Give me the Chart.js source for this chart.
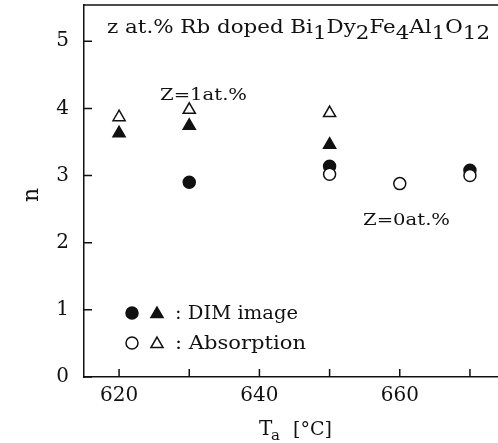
<!DOCTYPE html>
<html>
<head>
<meta charset="utf-8">
<script src="https://cdn.jsdelivr.net/npm/chart.js@4.4.1/dist/chart.umd.min.js"></script>
<style>
  html, body { margin: 0; padding: 0; background: #fff; }
  #wrap { width: 498px; height: 443px; }
</style>
</head>
<body>
<div id="wrap"><canvas id="c" width="498" height="443"></canvas></div>
<script>
// annealing temperature (degC) and n
const dimCircleT = [630, 650, 670];
const dimCircleN = [2.90, 3.14, 3.08];
const absCircleT = [650, 660, 670];
const absCircleN = [3.02, 2.88, 3.00];
const dimTriT = [620, 630, 650];
const dimTriN = [3.63, 3.74, 3.46];
const absTriT = [620, 630, 650];
const absTriN = [3.87, 3.98, 3.93];

const xTicks = [620, 630, 640, 650, 660, 670];
const xLabelled = [620, 640, 660];
const yTicks = [0, 1, 2, 3, 4, 5];

const INK = '#111';
const SERIF = '"DejaVu Serif", serif';

const pts = (xs, ys) => xs.map((x, i) => ({ x, y: ys[i] }));

// draw text squeezed/stretched so it spans a given width
function fitText(ctx, text, x, y, width, font) {
  ctx.save();
  ctx.font = font;
  const w = ctx.measureText(text).width;
  ctx.translate(x, y);
  ctx.scale(width / w, 1);
  ctx.fillText(text, 0, 0);
  ctx.restore();
}

// runs of [text, isSubscript]
function drawRuns(ctx, runs, x, y, width, font, subFont, drop) {
  ctx.save();
  let total = 0;
  runs.forEach(([t, sub]) => { ctx.font = sub ? subFont : font; total += ctx.measureText(t).width; });
  const k = width / total;
  ctx.translate(x, y);
  ctx.scale(k, 1);
  let cx = 0;
  runs.forEach(([t, sub]) => {
    ctx.font = sub ? subFont : font;
    ctx.fillText(t, cx, sub ? drop : 0);
    cx += ctx.measureText(t).width;
  });
  ctx.restore();
}

function marker(ctx, style, filled, x, y) {
  ctx.save();
  ctx.lineWidth = 1.5;
  ctx.strokeStyle = INK;
  ctx.fillStyle = filled ? INK : '#fff';
  ctx.beginPath();
  if (style === 'circle') {
    ctx.arc(x, y, 6, 0, Math.PI * 2);
  } else {
    const r = 7;
    ctx.moveTo(x, y - r);
    ctx.lineTo(x + r * Math.sin(2 * Math.PI / 3), y + r / 2);
    ctx.lineTo(x - r * Math.sin(2 * Math.PI / 3), y + r / 2);
    ctx.closePath();
  }
  ctx.fill();
  ctx.stroke();
  ctx.restore();
}

const decor = {
  id: 'decor',
  afterDraw(chart) {
    const { ctx, chartArea: a, scales: { x, y } } = chart;
    ctx.save();
    ctx.strokeStyle = INK;
    ctx.fillStyle = INK;
    ctx.lineWidth = 1.5;

    // top frame line
    ctx.beginPath();
    ctx.moveTo(a.left, a.top);
    ctx.lineTo(a.right, a.top);
    ctx.stroke();

    // inward tick marks
    ctx.beginPath();
    xTicks.forEach(v => {
      const px = x.getPixelForValue(v);
      ctx.moveTo(px, a.bottom);
      ctx.lineTo(px, a.bottom - 8);
    });
    yTicks.forEach(v => {
      const py = y.getPixelForValue(v);
      ctx.moveTo(a.left, py);
      ctx.lineTo(a.left + 8, py);
    });
    ctx.stroke();

    ctx.textBaseline = 'alphabetic';
    ctx.textAlign = 'left';

    // heading inside the frame
    drawRuns(ctx, [
      ['z at.% Rb doped Bi', false], ['1', true], ['Dy', false], ['2', true],
      ['Fe', false], ['4', true], ['Al', false], ['1', true], ['O', false], ['12', true]
    ], 107, 33, 383, '18px ' + SERIF, '18px ' + SERIF, 6);

    // series labels
    fitText(ctx, 'Z=1at.%', 160, 100, 87, '17px ' + SERIF);
    fitText(ctx, 'Z=0at.%', 363, 225, 87, '17px ' + SERIF);

    // legend
    marker(ctx, 'circle', true, 132, 313);
    marker(ctx, 'triangle', true, 157, 314);
    marker(ctx, 'circle', false, 132, 343);
    marker(ctx, 'triangle', false, 157, 344);
    ctx.fillStyle = INK;
    fitText(ctx, ': DIM image', 175, 319, 123, '19px ' + SERIF);
    fitText(ctx, ': Absorption', 175, 349, 131, '19px ' + SERIF);

    // axis titles
    ctx.font = '20px ' + SERIF;
    ctx.fillText('T', 259, 435);
    ctx.font = '15px ' + SERIF;
    ctx.fillText('a', 271, 440);
    ctx.font = '19px ' + SERIF;
    ctx.fillText('[°C]', 293, 435);

    ctx.translate(38, 195);
    ctx.rotate(-Math.PI / 2);
    ctx.textAlign = 'center';
    ctx.font = '22px ' + SERIF;
    ctx.fillText('n', 0, 0);
    ctx.restore();
  }
};

new Chart(document.getElementById('c'), {
  type: 'scatter',
  data: {
    datasets: [
      { label: 'Absorption circle', data: pts(absCircleT, absCircleN), pointStyle: 'circle',
        pointRadius: 6, backgroundColor: '#fff', borderColor: INK, borderWidth: 1.5, order: 0 },
      { label: 'DIM circle', data: pts(dimCircleT, dimCircleN), pointStyle: 'circle',
        pointRadius: 6, backgroundColor: INK, borderColor: INK, borderWidth: 1.5, order: 1 },
      { label: 'DIM triangle', data: pts(dimTriT, dimTriN), pointStyle: 'triangle',
        pointRadius: 7, backgroundColor: INK, borderColor: INK, borderWidth: 1.5, order: 2 },
      { label: 'Absorption triangle', data: pts(absTriT, absTriN), pointStyle: 'triangle',
        pointRadius: 7, backgroundColor: '#fff', borderColor: INK, borderWidth: 1.5, order: 3 }
    ]
  },
  options: {
    responsive: false,
    animation: false,
    layout: { autoPadding: false, padding: { top: 5, right: 0, left: 0, bottom: 0 } },
    plugins: { legend: { display: false }, tooltip: { enabled: false } },
    scales: {
      x: {
        type: 'linear', min: 615, max: 674,
        afterBuildTicks: s => { s.ticks = xTicks.map(value => ({ value })); },
        afterFit: s => { s.height = 66; s.paddingLeft = 0; s.paddingRight = 0; },
        grid: { display: false, drawTicks: false },
        border: { display: true, color: INK, width: 1.5 },
        ticks: {
          padding: 7, color: INK, font: { family: SERIF, size: 20 },
          maxRotation: 0, autoSkip: false,
          callback: v => xLabelled.includes(v) ? String(v) : ''
        }
      },
      y: {
        type: 'linear', min: 0, max: 5.54,
        afterBuildTicks: s => { s.ticks = yTicks.map(value => ({ value })); },
        afterFit: s => { s.width = 84; s.paddingTop = 0; s.paddingBottom = 0; },
        grid: { display: false, drawTicks: false },
        border: { display: true, color: INK, width: 1.5 },
        ticks: { padding: 15, color: INK, font: { family: SERIF, size: 20 }, callback: v => String(v) }
      }
    }
  },
  plugins: [decor]
});
</script>
</body>
</html>
